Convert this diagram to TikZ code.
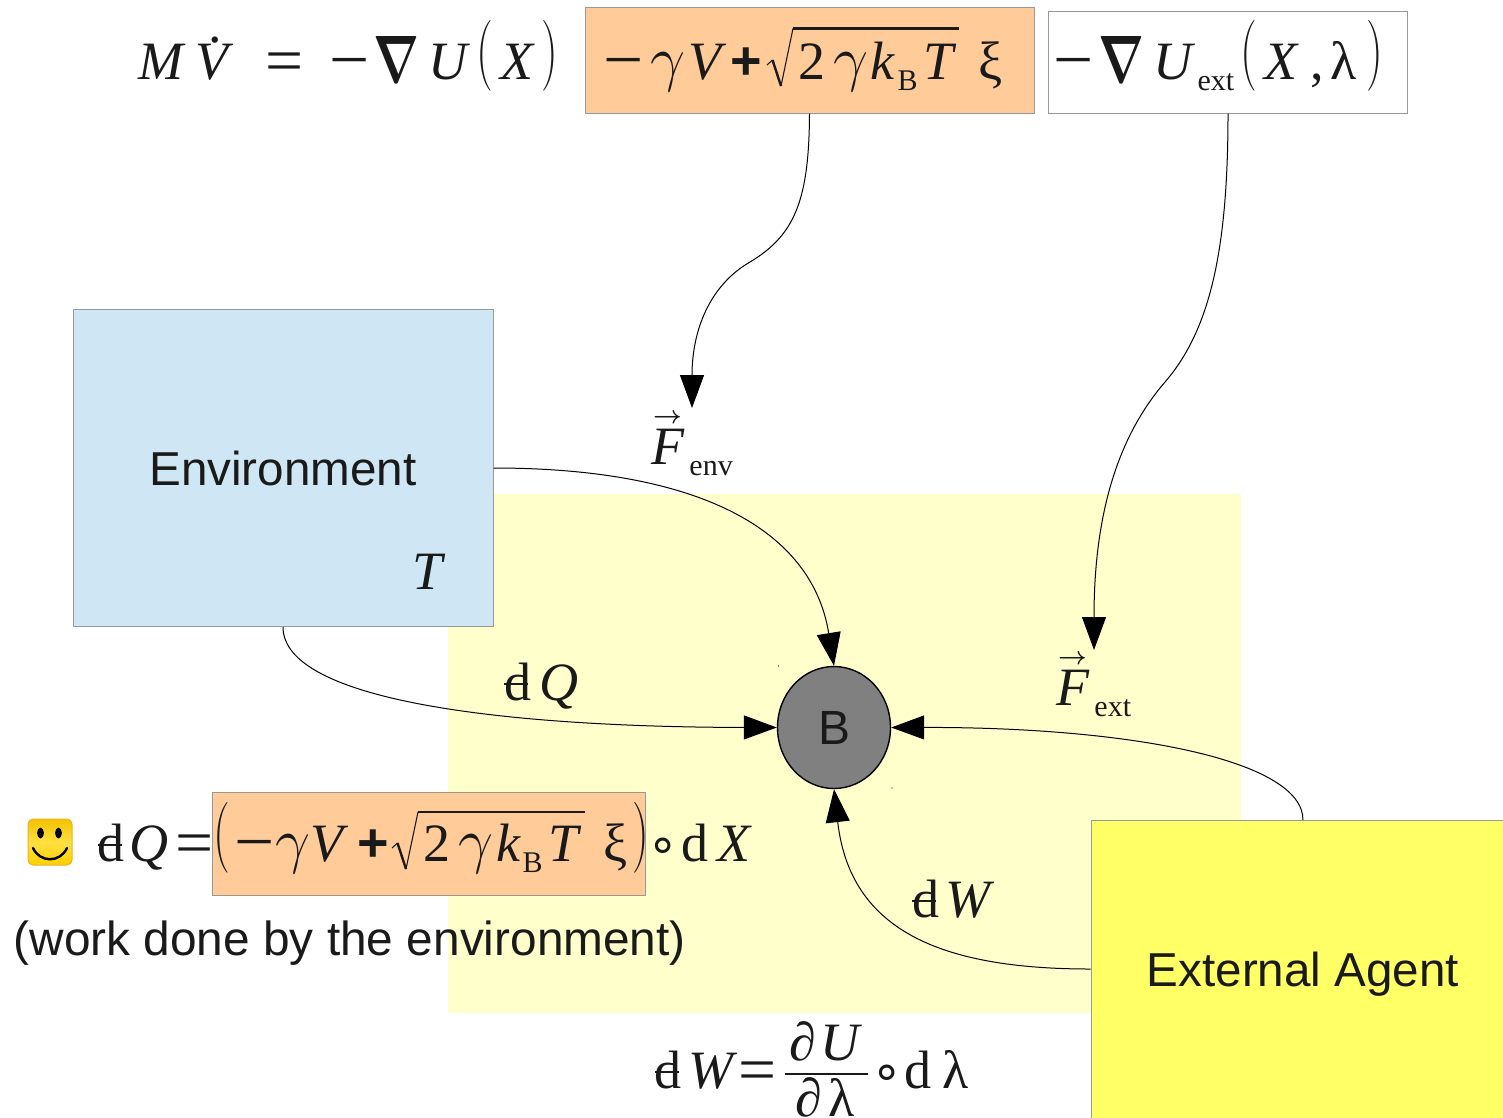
\documentclass[tikz,border=0pt]{standalone}
\usepackage{fontspec}
\usepackage{graphicx}
\usetikzlibrary{arrows.meta,shapes.geometric}
\setmainfont{Liberation Serif}
\newfontfamily\sansf{Liberation Sans}
\newfontfamily\dejav{DejaVu Sans}
\definecolor{lightyel}{HTML}{FFFFCC}
\definecolor{deepyel}{HTML}{FFFF66}
\definecolor{envblue}{HTML}{CFE7F5}
\definecolor{boxorange}{HTML}{FFCC99}
\definecolor{boxline}{HTML}{999999}
\definecolor{ink}{HTML}{1A1A1A}
\definecolor{smtop}{HTML}{F2C200}
\definecolor{smmid}{HTML}{FFE040}
\definecolor{smbot}{HTML}{FFD000}
\definecolor{smline}{HTML}{EBB320}
\newcommand{\gl}[2]{\rlap{\hspace*{#1pt}#2}}
\newcommand{\mi}[1]{\textit{#1}}
\newcommand{\nab}{\raisebox{-3pt}{\resizebox{46pt}{46pt}{\boldmath$\nabla$}}}
\newcommand{\lp}{\raisebox{6pt}{\scalebox{1.9}[2.85]{$\big($}}}
\newcommand{\rp}{\raisebox{6pt}{\scalebox{1.9}[2.85]{$\big)$}}}
\newcommand{\sub}[1]{\raisebox{-11pt}{\fontsize{30}{30}\selectfont #1}}
\newcommand{\dbar}{\rlap{\raisebox{15pt}{\rule{24pt}{2pt}}}d}
\newcommand{\mns}{\raisebox{-3.5pt}{\scalebox{1.32}[1.25]{−}}}
\newcommand{\eqs}{\raisebox{-3pt}{\scalebox{1.25}[1.2]{=}}}
\newcommand{\gam}{\scalebox{2.5}{$\gamma$}}
\newcommand{\pls}{{\sansf\bfseries +}}
\newcommand{\rng}{{\dejav\fontsize{50}{50}\selectfont ∘}}
\newcommand{\vecsign}{\scalebox{2.5}{\boldmath$\rightarrow$}}
\tikzset{
  fbox/.style={draw=boxline,line width=1pt,inner sep=0pt,anchor=center},
  formula/.style={anchor=base west,inner sep=0pt,outer sep=0pt,text=ink,font=\fontsize{54}{54}\selectfont},
  vecmark/.style={anchor=base west,inner sep=0pt,outer sep=0pt,text=ink},
  notetext/.style={anchor=base west,inner sep=0pt,text=ink,font=\sansf\fontsize{47.8}{48}\selectfont},
  boxtext/.style={font=\sansf\fontsize{47.6}{48}\selectfont,text=ink},
  wire/.style={draw=black,line width=1pt},
  arrowwire/.style={wire,-{Triangle[length=33pt,width=24pt]}},
  radthin/.style={ink,line width=1.1pt},
  radthick/.style={ink,line width=2.4pt},
}
\begin{document}
\begin{tikzpicture}[x=1pt,y=-1pt]
\useasboundingbox (0,0) rectangle (1503,1117);
\clip (0,0) rectangle (1503,1117);
\fill[white] (0,0) rectangle (1503,1117);
% backdrop
\node[fill=lightyel,inner sep=0,minimum width=793pt,minimum height=519pt] (zone) at (844.5,753.5) {};
% boxes
\node[fbox,fill=envblue,minimum width=420pt,minimum height=317pt,boxtext] (env) at (283,468) {Environment};
\node[fbox,fill=deepyel,minimum width=424pt,minimum height=298pt] (ext) at (1303,969) {};
\node[boxtext,inner sep=0pt,anchor=base] (extText) at (1303,986) {External Agent};
\node[fbox,fill=boxorange,minimum width=449pt,minimum height=106pt] (forangeA) at (809.5,60) {};
\node[fbox,fill=white,minimum width=359pt,minimum height=102pt] (fwhite) at (1228,62) {};
\node[fbox,fill=boxorange,minimum width=433pt,minimum height=103pt] (forangeB) at (428.5,843.5) {};
\node[ellipse,draw=black,line width=1.4pt,fill=black!50,minimum width=113pt,minimum height=122pt,inner sep=0,text=ink,font=\sansf\fontsize{48}{48}\selectfont] (body) at (834,727.5) {B};
\fill (778.5,666) circle (.7pt) (892,788) circle (.7pt);
% named free ends
\coordinate (envTip) at (692,408);
\coordinate (extTip) at (1094,650);
\coordinate (extTop) at (1303,820);
% connectors
\draw[arrowwire] (forangeA.south) .. controls (809,200) and (795,235) .. (750,262) .. controls (710,285) and (692,330) .. (envTip);
\draw[arrowwire] (fwhite.south) .. controls (1228,250) and (1210,330) .. (1165,382) .. controls (1115,440) and (1094,520) .. (extTip);
\draw[arrowwire] (env.east) .. controls (700,468) and (812,530) .. (body.north);
\draw[arrowwire] (env.south) .. controls (283,700) and (500,727) .. (body.west);
\draw[arrowwire] (extTop) .. controls (1303,760) and (1130,727) .. (body.east);
\draw[arrowwire] (ext.west) .. controls (940,969) and (850,930) .. (body.south);
% top formula
\node[formula] (eqLeft) at (0,79) {\gl{138}{\mi{M}}\gl{195}{\mi{V}}\gl{207.5}{\raisebox{37pt}{.}}\gl{265}{\eqs}\gl{329}{\mns}\gl{373}{\nab}\gl{428}{\mi{U}}\gl{476}{\lp}\gl{500}{\mi{X}}\gl{541}{\rp}};
\node[formula] (eqEnv) at (0,79) {\gl{603}{\mns}\gl{650}{\gam}\gl{688}{\mi{V}}\gl{730}{\pls}\gl{798}{2}\gl{833}{\gam}\gl{870}{\mi{k}}\gl{897}{\sub{B}}\gl{923}{\mi{T}}\gl{978}{ξ}};
\draw[radthin] (767,65) -- (772.5,60);
\draw[radthick] (772.5,60) -- (781,86);
\draw[radthin] (781,86) -- (793,28.5);
\draw[radthick] (792.5,28.5) -- (959,28.5);
\node[formula] (eqExt) at (0,79) {\gl{1053}{\mns}\gl{1098}{\nab}\gl{1153}{\mi{U}}\gl{1197}{\sub{ext}}\gl{1240}{\lp}\gl{1264}{\mi{X}}\gl{1310}{,}\gl{1330}{λ}\gl{1366}{\rp}};
% labels
\node[formula] (tempT) at (412,589) {\mi{T}};
\node[formula] (fEnv) at (651,464) {\mi{F}\hspace*{5pt}\sub{env}};
\node[vecmark] (fEnvArrow) at (653,423) {\vecsign};
\node[formula] (fExt) at (1056,705) {\mi{F}\hspace*{5pt}\sub{ext}};
\node[vecmark] (fExtArrow) at (1058,664) {\vecsign};
\node[formula] (dQ) at (504,700) {\dbar\hspace*{8pt}\mi{Q}};
\node[formula] (dW) at (912,917) {\dbar\hspace*{6pt}\mi{W}};
% smiley
\node[draw=smline,top color=smtop,bottom color=smbot,middle color=smmid,rounded corners=5pt,line width=1pt,minimum width=44pt,minimum height=46pt,inner sep=0] (smile) at (50,842) {};
\fill[black] (40.5,833) ellipse (3.4pt and 5.4pt) (58.5,833) ellipse (3.4pt and 5.4pt);
\draw[black,line width=2.4pt,line cap=round] (33,848) .. controls (40,863) and (60,863) .. (67,848);
% heat formula
\node[formula] (eqHeat) at (0,861) {\gl{97}{\dbar}\gl{129}{\mi{Q}}\gl{175}{\eqs}\gl{213}{\lp}\gl{234}{\mns}\gl{275}{\gam}\gl{310}{\mi{V}}\gl{357}{\pls}\gl{423}{2}\gl{458}{\gam}\gl{496}{\mi{k}}\gl{522}{\sub{B}}\gl{548}{\mi{T}}\gl{603}{ξ}\gl{632}{\rp}\gl{647}{\rng}\gl{681}{d}\gl{717}{\mi{X}}};
\draw[radthin] (392,848) -- (397.5,843);
\draw[radthick] (397.5,843) -- (406,869);
\draw[radthin] (406,869) -- (418,812);
\draw[radthick] (417.5,812) -- (585,812);
\node[notetext] (note) at (13.5,955) {(work done by the environment)};
% work formula
\node[formula] (eqWork) at (0,1088) {\gl{654}{\dbar}\gl{688}{\mi{W}}\gl{738}{\eqs}\gl{871}{\rng}\gl{904}{d}\gl{942}{λ}};
\node[formula] (frNum) at (0,1060) {\gl{789}{∂}\gl{820}{\mi{U}}};
\node[formula] (frDen) at (0,1116) {\gl{795}{∂}\gl{828}{λ}};
\draw[ink,line width=2.4pt] (785,1074) -- (868,1074);
\end{tikzpicture}
\end{document}
